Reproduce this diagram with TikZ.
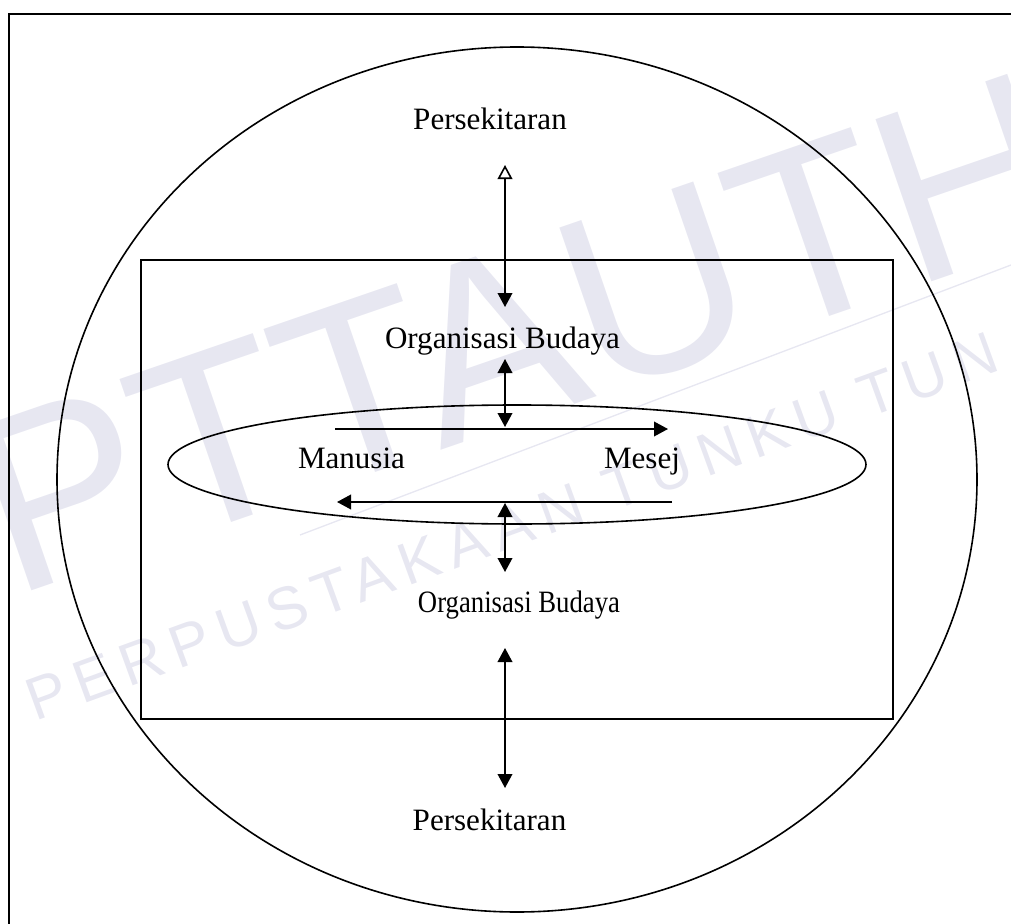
\documentclass[tikz,border=0pt]{standalone}
\usepackage{fontspec}
\setmainfont{Liberation Serif}
\newfontfamily\wmbig{Liberation Sans}
\newfontfamily\wmsmall[LetterSpace=16]{Liberation Sans}
\usetikzlibrary{arrows.meta}
\definecolor{wmgray}{RGB}{231,231,241}
\begin{document}
\begin{tikzpicture}[x=0.75pt,y=-0.75pt,
  line width=1.2pt,
  lbl/.style={font=\fontsize{23.3}{26}\selectfont, inner sep=0pt, anchor=base},
  twoway/.style={{Triangle[width=11pt,length=10.5pt]}-{Triangle[width=11pt,length=10.5pt]}},
  oneway/.style={-{Triangle[width=11pt,length=10.5pt]}}
]
\useasboundingbox (0,0) rectangle (1011,924);
\clip (0,0) rectangle (1011,924);

% library stamp in the background
\begin{scope}[color=wmgray]
  \node[rotate=19, anchor=base west, inner sep=0pt,
        font=\wmbig\fontsize{187}{187}\selectfont] (stamp) at (12,598) {PTTAUTHM};
  \node[rotate=20, anchor=base west, inner sep=0pt,
        font=\wmsmall\fontsize{45}{45}\selectfont] (stampline) at (35,722) {PERPUSTAKAAN TUNKU TUN};
  \coordinate (sw1) at (300,535);
  \coordinate (sw2) at (1011,265);
  \draw[line width=1pt] (sw1) -- (sw2);
\end{scope}

% page frame (left and top edges only)
\coordinate (fl) at (9,924);
\coordinate (fc) at (9,14);
\coordinate (fr) at (1011,14);
\draw[line width=1.5pt] (fl) -- (fc) -- (fr);

% surroundings, culture box and the inner ellipse
\coordinate (env) at (517,479.5);
\draw (env) ellipse [x radius=460, y radius=432.5];
\node[draw, minimum width=752*0.75pt, minimum height=459*0.75pt, inner sep=0pt,
      line width=1.2pt] (box) at (517,489.5) {};
\coordinate (core) at (517,464.5);
\draw (core) ellipse [x radius=349, y radius=59.5];

% labels
\node[lbl] (envtop) at (490,130) {Persekitaran};
\node[lbl] (orgtop) at (502.5,348) {Organisasi Budaya};
\node[lbl] (man) at (351.5,468) {Manusia};
\node[lbl] (msg) at (642,468) {Mesej};
\node[lbl] (orgbot) at (519,612) {\scalebox{0.86}[1]{Organisasi Budaya}};
\node[lbl] (envbot) at (489.5,830) {Persekitaran};

% arrow end points
\coordinate (a1) at (505,165);
\coordinate (a2) at (505,307);
\coordinate (b1) at (505,359);
\coordinate (b2) at (505,427);
\coordinate (h1) at (335,429);
\coordinate (h2) at (668,429);
\coordinate (g1) at (672,502);
\coordinate (g2) at (337,502);
\coordinate (c1) at (505,503);
\coordinate (c2) at (505,572);
\coordinate (d1) at (505,648);
\coordinate (d2) at (505,788);

% connectors
\draw[{Triangle[open,width=11pt,length=10.5pt]}-{Triangle[width=11pt,length=10.5pt]}] (a1) -- (a2);
\draw[twoway] (b1) -- (b2);
\draw[oneway] (h1) -- (h2);
\draw[oneway] (g1) -- (g2);
\draw[twoway] (c1) -- (c2);
\draw[twoway] (d1) -- (d2);
\end{tikzpicture}
\end{document}
